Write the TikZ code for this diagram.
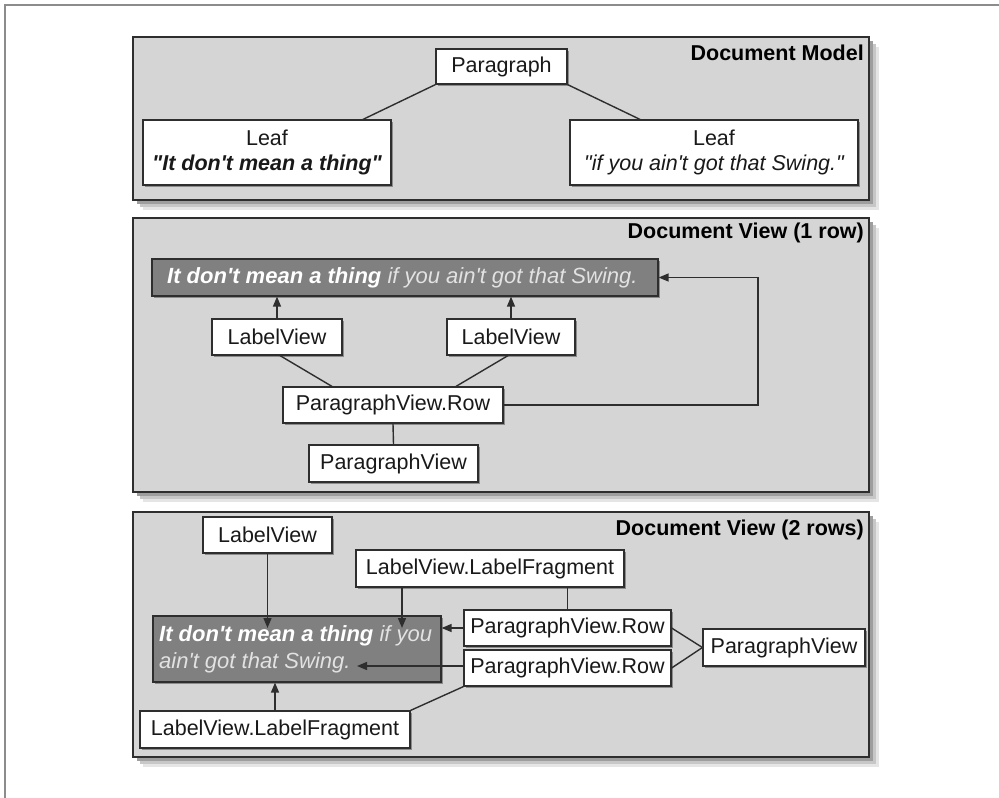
\documentclass[tikz,border=0pt]{standalone}
\usepackage{fontspec}
\setmainfont{Liberation Sans}
\usetikzlibrary{arrows.meta,shadows}
\definecolor{panelfill}{HTML}{D5D5D5}
\definecolor{barfill}{HTML}{808080}
\definecolor{edge}{HTML}{2E2E2E}
\definecolor{framecol}{HTML}{8C8C8C}
\definecolor{lighttxt}{HTML}{E2E2E2}
\newcommand\ap{\textquotesingle}
\newcommand\qq{\textquotedbl}
\tikzset{
  panel/.style={draw=edge, line width=1.4pt, fill=panelfill},
  wbox/.style={draw=edge, line width=1.2pt, fill=white, inner sep=0pt, align=center,
    font=\fontsize{21.5}{25}\selectfont, text=black!90,
    drop shadow={shadow xshift=2pt, shadow yshift=-2pt, fill=black!45, opacity=1}},
  darkbar/.style={draw=edge, line width=1.2pt, fill=barfill, inner sep=0pt,
    drop shadow={shadow xshift=2pt, shadow yshift=-2pt, fill=black!45, opacity=1}},
  bartext/.style={font=\fontsize{22}{27}\selectfont, inner sep=0pt, align=left},
  ptitle/.style={font=\fontsize{21.5}{25}\selectfont\bfseries, anchor=east, inner sep=0pt, text=black},
  conn/.style={draw=edge, line width=1.4pt},
  arr/.style={conn, -{Triangle[length=10pt,width=8pt]}}
}
\newcommand\drawpanel[4]{%
  \fill[black!10] ({#1+10},{#2+10}) rectangle ({#3+10},{#4+10});
  \fill[black!22] ({#1+7},{#2+7}) rectangle ({#3+7},{#4+7});
  \fill[black!38] ({#1+4},{#2+4}) rectangle ({#3+4},{#4+4});
  \draw[panel] (#1,#2) rectangle (#3,#4);
}
\begin{document}
\begin{tikzpicture}[x=1pt,y=-1pt]
\useasboundingbox (0,0) rectangle (999,798);
\fill[white] (0,0) rectangle (999,798);
\draw[framecol, line width=2pt] (999,5) -- (5,5) -- (5,798);

% ---------- Panel 1: Document Model ----------
\drawpanel{133}{37}{869}{200}
\node[ptitle] (t1) at (864,53) {Document Model};
\node[wbox, minimum width=131pt, minimum height=35pt] (para) at (501.5,66.5) {Paragraph};
\node[wbox, minimum width=248pt, minimum height=65pt] (leafL) at (267,152.5)
  {Leaf\\\bfseries\itshape \qq It don\ap t mean a thing\qq};
\node[wbox, minimum width=288pt, minimum height=65pt] (leafR) at (714,152.5)
  {Leaf\\\itshape \qq if you ain\ap t got that Swing.\qq};
\draw[conn] (para.south west) -- ([xshift=96pt]leafL.north);
\draw[conn] (para.south east) -- ([xshift=-74pt]leafR.north);

% ---------- Panel 2: Document View (1 row) ----------
\drawpanel{133}{218}{869}{492}
\node[ptitle] (t2) at (864,233) {Document View (1 row)};
\node[darkbar, minimum width=506pt, minimum height=37pt] (bar1) at (405,277.5) {};
\node[bartext, anchor=west] (bar1txt) at (167,277.5)
  {{\color{white}\bfseries\itshape It don\ap t mean a thing} {\color{lighttxt}\itshape if you ain\ap t got that Swing.}};
\node[wbox, minimum width=130pt, minimum height=36pt] (lv1) at (277,337) {LabelView};
\node[wbox, minimum width=128pt, minimum height=36pt] (lv2) at (511,337) {LabelView};
\node[wbox, minimum width=220pt, minimum height=36pt] (pvr) at (393,405) {ParagraphView.Row};
\node[wbox, minimum width=169pt, minimum height=37pt] (pv) at (393.5,463.5) {ParagraphView};
\coordinate (turn) at (758,277.5);
\draw[arr] (lv1.north) -- (lv1.north |- bar1.south);
\draw[arr] (lv2.north) -- (lv2.north |- bar1.south);
\draw[conn] ([xshift=3pt]lv1.south) -- ([xshift=-61pt]pvr.north);
\draw[conn] ([xshift=-3pt]lv2.south) -- ([xshift=63pt]pvr.north);
\draw[arr] (pvr.east) -| (turn) -- (bar1.east);
\draw[conn] (pvr.south) -- (pv.north);

% ---------- Panel 3: Document View (2 rows) ----------
\drawpanel{133}{512}{869}{757}
\node[ptitle] (t3) at (864,530) {Document View (2 rows)};
\node[darkbar, minimum width=288pt, minimum height=66pt] (bar2) at (297,649) {};
\node[bartext, anchor=west] (bar2txt) at (159,649.5)
  {{\color{white}\bfseries\itshape It don\ap t mean a thing} {\color{lighttxt}\itshape if you}\\
   {\color{lighttxt}\itshape ain\ap t got that Swing.}};
\node[wbox, minimum width=129pt, minimum height=36pt] (lva) at (267.5,535) {LabelView};
\node[wbox, minimum width=268pt, minimum height=37pt] (lfa) at (490,568.5) {LabelView.LabelFragment};
\node[wbox, minimum width=207pt, minimum height=36pt] (pvr1) at (567.5,628) {ParagraphView.Row};
\node[wbox, minimum width=207pt, minimum height=36pt] (pvr2) at (567.5,668) {ParagraphView.Row};
\node[wbox, minimum width=162pt, minimum height=37pt] (pv3) at (784,647.5) {ParagraphView};
\node[wbox, minimum width=270pt, minimum height=37pt] (lfb) at (275,729.5) {LabelView.LabelFragment};
\coordinate (tipA) at (267.5,628);
\coordinate (tipB) at (402,628);
\coordinate (tipC) at (357,666);
\draw[arr] (lva.south) -- (tipA);
\draw[arr] (tipB |- lfa.south) -- (tipB);
\draw[conn] (pvr1.north |- lfa.south) -- (pvr1.north);
\draw[arr] (pvr1.west) -- (pvr1.west -| bar2.east);
\draw[arr] (pvr2.west |- tipC) -- (tipC);
\draw[conn] (pvr1.east) -- (pv3.west);
\draw[conn] (pvr2.east) -- (pv3.west);
\draw[arr] (lfb.north) -- (lfb.north |- bar2.south);
\draw[conn] (lfb.north east) -- (pvr2.south west);
\end{tikzpicture}
\end{document}
